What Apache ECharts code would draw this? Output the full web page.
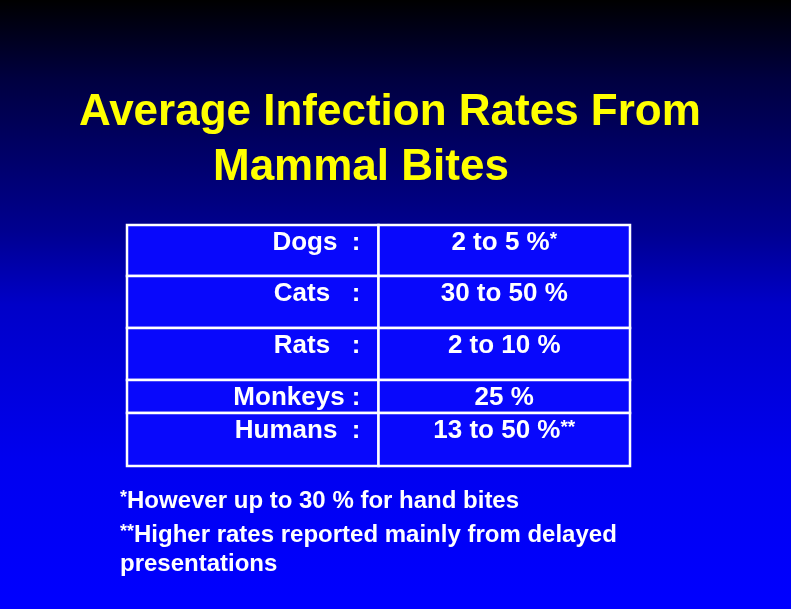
<!DOCTYPE html>
<html><head><meta charset="utf-8">
<script src="https://cdn.jsdelivr.net/npm/echarts@6/dist/echarts.min.js"></script>
<style>html,body{margin:0;padding:0;background:#000;}#c{width:791px;height:609px;}</style>
</head><body><div id="c"></div>
<script>
// ---- data ----
const titleLines = ['Average Infection Rates From', 'Mammal Bites'];
const animals = ['Dogs  :', 'Cats   :', 'Rats   :', 'Monkeys :', 'Humans  :'];
const rates = ['2 to 5 %*', '30 to 50 %', '2 to 10 %', '25 %', '13 to 50 %**'];
const footnotes = ['*However up to 30 % for hand bites', '**Higher rates reported mainly from delayed', 'presentations'];
// ---- layout (row heights in table units) ----
const rowHeights = [51, 52, 52, 33, 53];
const rowStart = [];
rowHeights.reduce((acc, h, i) => { rowStart[i] = acc; return acc + h; }, 0);
const tableTotal = rowHeights.reduce((a, b) => a + b, 0);

const FONT = '"Liberation Sans", Arial, Helvetica, sans-serif';

function richStar(s) {
  return s.replace(/(\*+)/g, '{s|$1}');
}

const chart = echarts.init(document.getElementById('c'), null, {renderer: 'canvas'});
const option = {
  animation: false,
  backgroundColor: {
    type: 'linear', x: 0, y: 0, x2: 0, y2: 1,
    colorStops: [
      {offset: 0, color: '#000000'},
      {offset: 0.13, color: '#000040'},
      {offset: 0.38, color: '#000090'},
      {offset: 0.5, color: '#0000c8'},
      {offset: 0.76, color: '#0000f0'},
      {offset: 1, color: '#0000ff'}
    ]
  },
  title: [
    {text: titleLines[0], left: 79, top: 91,
     textStyle: {color: '#ffff00', fontFamily: FONT, fontWeight: 'bold', fontSize: 44}, padding: 0},
    {text: titleLines[1], left: 213, top: 146,
     textStyle: {color: '#ffff00', fontFamily: FONT, fontWeight: 'bold', fontSize: 44}, padding: 0}
  ],
  grid: {left: 127, top: 225, width: 503, height: tableTotal, containLabel: false},
  xAxis: {type: 'value', min: 0, max: 2, show: false},
  yAxis: {type: 'value', min: 0, max: tableTotal, inverse: true, show: false},
  graphic: footnotes.map((t, i) => ({
    type: 'text', left: 120, top: [489, 523, 552][i],
    style: {
      text: richStar(t), fill: '#ffffff', font: 'bold 24px ' + FONT,
      rich: {s: {fontSize: 18, fontWeight: 'bold', fontFamily: FONT, fill: '#ffffff', verticalAlign: 'top', padding: [0,0,6,0]}}
    }
  })),
  series: [{
    type: 'custom',
    coordinateSystem: 'cartesian2d',
    data: animals.map((a, i) => [i, rowStart[i], rowStart[i] + rowHeights[i]]),
    renderItem: function (params, api) {
      const i = api.value(0);
      const p0 = api.coord([0, api.value(1)]);
      const pm = api.coord([1, api.value(2)]);
      const p2 = api.coord([2, api.value(2)]);
      const top = p0[1], bot = pm[1];
      const cellStyle = {fill: '#0808fc', stroke: '#ffffff', lineWidth: 2.5};
      return {
        type: 'group',
        children: [
          {type: 'rect', shape: {x: p0[0], y: top, width: pm[0] - p0[0], height: bot - top}, style: cellStyle},
          {type: 'rect', shape: {x: pm[0], y: top, width: p2[0] - pm[0], height: bot - top}, style: cellStyle},
          {type: 'text', x: pm[0] - 18, y: top + 18,
           style: {text: animals[i], fill: '#ffffff', font: 'bold 26px ' + FONT, align: 'right', verticalAlign: 'middle'}},
          {type: 'text', x: (pm[0] + p2[0]) / 2, y: top + 18,
           style: {text: richStar(rates[i]), fill: '#ffffff', font: 'bold 26px ' + FONT, align: 'center', verticalAlign: 'middle',
             rich: {s: {fontSize: 19, fontWeight: 'bold', fontFamily: FONT, fill: '#ffffff', verticalAlign: 'top'}}}}
        ]
      };
    }
  }]
};
chart.setOption(option);
</script></body></html>
